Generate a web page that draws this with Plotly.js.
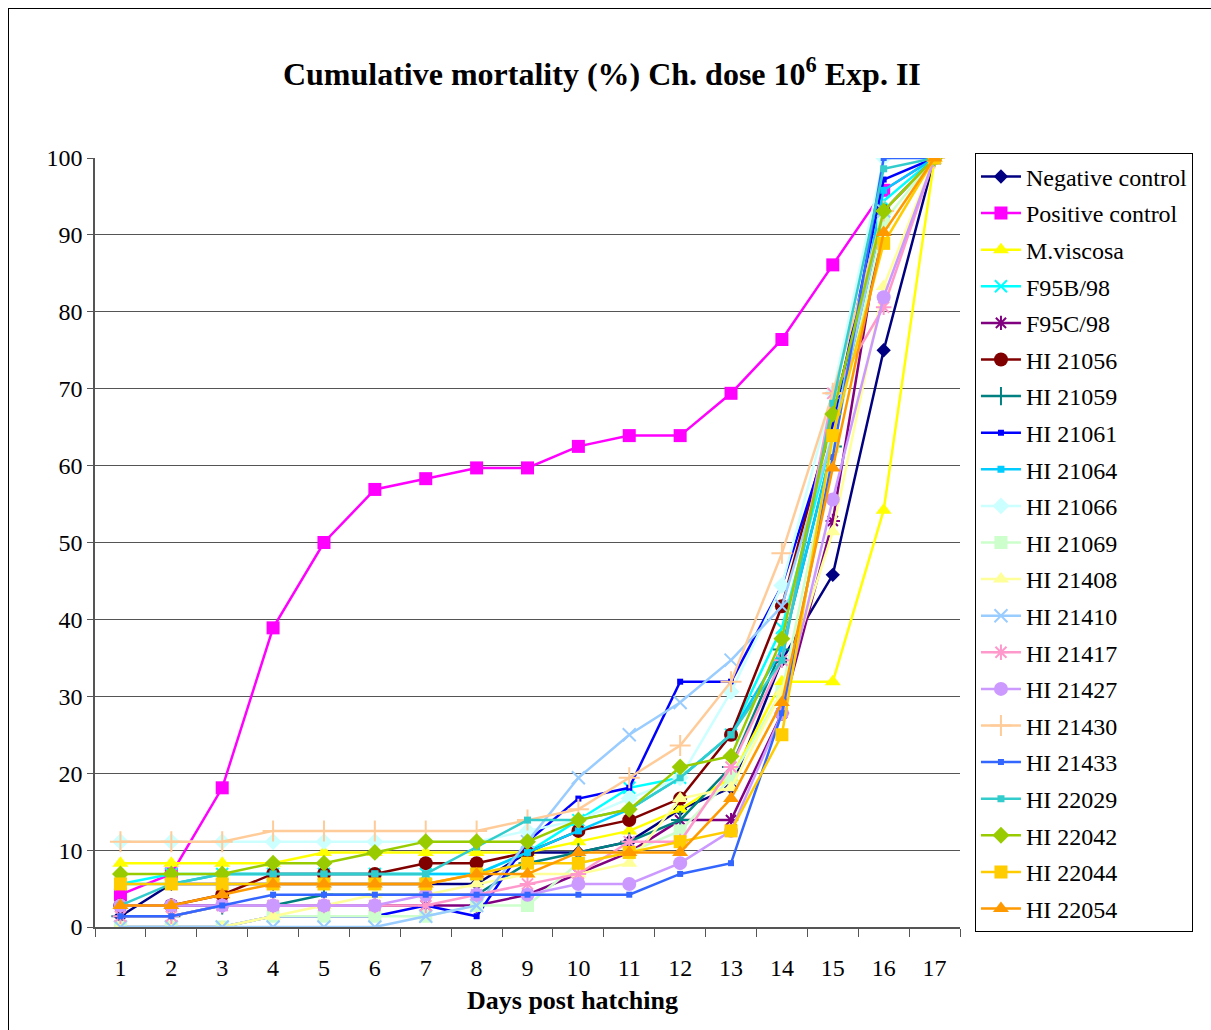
<!DOCTYPE html>
<html>
<head>
<meta charset="utf-8">
<script src="https://cdn.plot.ly/plotly-3.0.1.min.js"></script>
<style>
  html, body { margin: 0; padding: 0; background: #fff; }
  #frame { position: absolute; left: 8px; top: 8px; width: 1220px; height: 1040px; border: 1px solid #000; box-sizing: border-box; }
  #chart { position: absolute; left: 0; top: 0; width: 1211px; height: 1030px; }
</style>
</head>
<body>
<div id="frame"></div>
<div id="chart"></div>
<script>
// Days post hatching (categories)
const days = ['1','2','3','4','5','6','7','8','9','10','11','12','13','14','15','16','17'];

// Cumulative mortality (%) per group
const negativeControl = [1.4,5.6,5.6,5.6,5.6,5.6,5.6,5.6,9.7,9.7,11.1,15.3,18.1,34.7,45.8,75,100];
const positiveControl = [4.2,6.9,18.1,38.9,50,56.9,58.3,59.7,59.7,62.5,63.9,63.9,69.4,76.4,86.1,95.8,100];
const mViscosa = [8.3,8.3,8.3,8.3,9.7,9.7,9.7,9.7,9.7,11.1,12.5,15.3,19.4,31.9,31.9,54.2,100];
const f95b98 = [5.6,6.9,6.9,6.9,6.9,6.9,6.9,6.9,9.7,13.9,18.1,19.4,25,38.9,63.9,94.4,100];
const f95c98 = [2.8,2.8,2.8,2.8,2.8,2.8,2.8,2.8,4.2,6.9,9.7,13.9,13.9,27.8,52.8,93.1,100];
const hi21056 = [2.8,2.8,4.2,6.9,6.9,6.9,8.3,8.3,9.7,12.5,13.9,16.7,25,41.7,66.7,93.1,100];
const hi21059 = [1.4,1.4,2.8,2.8,4.2,4.2,4.2,4.2,8.3,9.7,11.1,13.9,20.8,36.1,62.5,93.1,100];
const hi21061 = [0,0,0,1.4,1.4,1.4,2.8,1.4,11.1,16.7,18.1,31.9,31.9,44.4,65.3,97.2,100];
const hi21064 = [5.6,5.6,6.9,6.9,6.9,6.9,6.9,6.9,9.7,12.5,15.3,19.4,25,36.1,62.5,95.8,100];
const hi21066 = [11.1,11.1,11.1,11.1,11.1,11.1,11.1,11.1,12.5,13.9,16.7,19.4,30.6,44.4,69.4,100,100];
const hi21069 = [0,0,0,1.4,1.4,1.4,1.4,2.8,2.8,8.3,9.7,12.5,19.4,30.6,62.5,91.7,100];
const hi21408 = [0,0,0,1.4,2.8,4.2,4.2,5.6,6.9,6.9,8.3,16.7,18.1,30.6,51.4,83.3,100];
const hi21410 = [0,0,0,0,0,0,1.4,2.8,11.1,19.4,25,29.2,34.7,41.7,63.9,93.1,100];
const hi21417 = [1.4,1.4,2.8,2.8,2.8,2.8,2.8,4.2,5.6,6.9,11.1,11.1,20.8,34.7,69.4,80.6,100];
const hi21427 = [2.8,2.8,2.8,2.8,2.8,2.8,4.2,4.2,4.2,5.6,5.6,8.3,12.5,27.8,55.6,81.9,100];
const hi21430 = [11.1,11.1,11.1,12.5,12.5,12.5,12.5,12.5,13.9,15.3,19.4,23.6,31.9,48.6,69.4,93.1,100];
const hi21433 = [1.4,1.4,2.8,4.2,4.2,4.2,4.2,4.2,4.2,4.2,4.2,6.9,8.3,27.8,61.1,100,100];
const hi22029 = [2.8,5.6,6.9,6.9,6.9,6.9,6.9,10.4,13.9,13.9,15.3,19.4,25,34.7,68.1,98.6,100];
const hi22042 = [6.9,6.9,6.9,8.3,8.3,9.7,11.1,11.1,11.1,13.9,15.3,20.8,22.2,37.5,66.7,93.1,100];
const hi22044 = [5.6,5.6,5.6,5.6,5.6,5.6,5.6,6.9,8.3,8.3,9.7,11.1,12.5,25,63.9,88.9,100];
const hi22054 = [2.8,2.8,4.2,5.6,5.6,5.6,5.6,6.9,6.9,9.7,9.7,9.7,16.7,29.2,59.7,90.3,100];

const seriesNames = ['Negative control','Positive control','M.viscosa','F95B/98','F95C/98','HI 21056','HI 21059','HI 21061','HI 21064','HI 21066','HI 21069','HI 21408','HI 21410','HI 21417','HI 21427','HI 21430','HI 21433','HI 22029','HI 22042','HI 22044','HI 22054'];
const seriesValues = [negativeControl, positiveControl, mViscosa, f95b98, f95c98, hi21056, hi21059, hi21061, hi21064, hi21066, hi21069, hi21408, hi21410, hi21417, hi21427, hi21430, hi21433, hi22029, hi22042, hi22044, hi22054];

const styles = [
  {c:'#000080', s:'diamond', z:11},
  {c:'#FF00FF', s:'square', z:13},
  {c:'#FFFF00', s:'triangle-up', z:14},
  {c:'#00FFFF', s:'x-thin-open', z:12},
  {c:'#800080', s:'asterisk-open', z:12},
  {c:'#800000', s:'circle', z:14},
  {c:'#008080', s:'cross-thin-open', z:13},
  {c:'#0000FF', s:'square', z:6},
  {c:'#00CCFF', s:'square', z:7},
  {c:'#CCFFFF', s:'diamond', z:13},
  {c:'#CCFFCC', s:'square', z:13},
  {c:'#FFFF99', s:'triangle-up', z:14},
  {c:'#99CCFF', s:'x-thin-open', z:13},
  {c:'#FF99CC', s:'asterisk-open', z:13},
  {c:'#CC99FF', s:'circle', z:14},
  {c:'#FFCC99', s:'cross-thin-open', z:15},
  {c:'#3366FF', s:'square', z:6},
  {c:'#33CCCC', s:'square', z:7},
  {c:'#99CC00', s:'diamond', z:13},
  {c:'#FFCC00', s:'square', z:13},
  {c:'#FF9900', s:'triangle-up', z:14}
];

const traces = seriesNames.map((name, i) => {
  const st = styles[i];
  const open = st.s.indexOf('open') >= 0;
  return {
    type: 'scatter',
    mode: 'lines+markers',
    name: name,
    legendgroup: 'g' + i,
    x: days,
    y: seriesValues[i],
    line: {color: st.c, width: 2.5},
    marker: {symbol: st.s, size: st.z, color: st.c, line: {color: st.c, width: open ? 2 : 0}}
  };
});

const serif = 'Liberation Serif, Times New Roman, serif';

const layout = {
  width: 1211,
  height: 1030,
  paper_bgcolor: 'rgba(0,0,0,0)',
  plot_bgcolor: '#fff',
  margin: {l: 95, r: 251, t: 158, b: 103},
  title: {
    text: '<b>Cumulative mortality (%) Ch. dose 10<sup>6</sup> Exp. II</b>',
    font: {family: serif, size: 32, color: '#000'},
    x: 0.497, xanchor: 'center',
    y: 0.928, yanchor: 'middle'
  },
  showlegend: true,
  legend: {
    x: 1.0173, xanchor: 'left',
    y: 1.006, yanchor: 'top',
    bordercolor: '#000', borderwidth: 1,
    bgcolor: '#fff',
    font: {family: serif, size: 24, color: '#000'},
    traceorder: 'grouped',
    tracegroupgap: 2.4,
    itemwidth: 40,
    maxheight: 1000
  },
  annotations: [{
    text: '<b>Days post hatching</b>',
    xref: 'paper', yref: 'paper',
    x: 0.5526, y: -0.096,
    xanchor: 'center', yanchor: 'middle',
    showarrow: false,
    font: {family: serif, size: 26, color: '#000'}
  }],
  xaxis: {
    type: 'category',
    range: [-0.5, 16.5],
    tickson: 'boundaries',
    ticks: 'outside',
    ticklen: 8,
    tickcolor: '#555',
    showline: true,
    linecolor: '#555',
    linewidth: 1.5,
    showgrid: false,
    zeroline: false,
    ticklabelstandoff: 18,
    tickfont: {family: serif, size: 24, color: '#000'}
  },
  yaxis: {
    range: [0, 100],
    dtick: 10,
    ticks: 'outside',
    ticklen: 6,
    tickcolor: '#555',
    showline: true,
    linecolor: '#555',
    linewidth: 1.5,
    showgrid: true,
    gridcolor: '#555',
    gridwidth: 1.3,
    zeroline: false,
    tickfont: {family: serif, size: 24, color: '#000'}
  }
};

Plotly.newPlot('chart', traces, layout, {displayModeBar: false, responsive: false});
</script>
</body>
</html>
